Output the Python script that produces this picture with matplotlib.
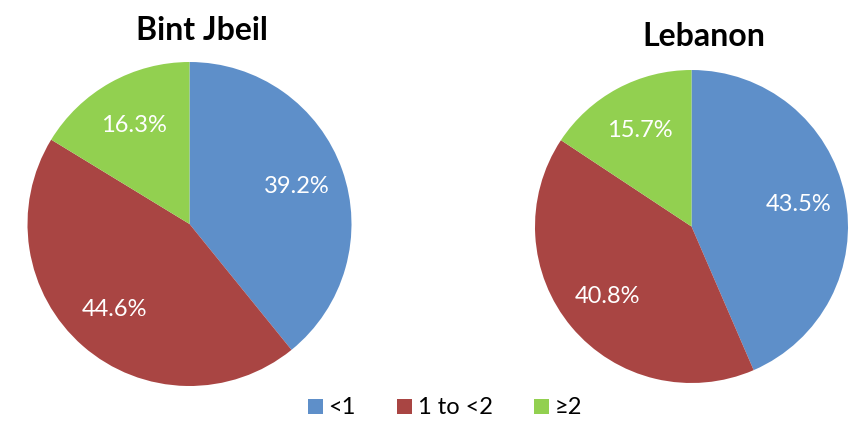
import matplotlib
matplotlib.use("Agg")
import matplotlib.pyplot as plt
from matplotlib.patches import Patch

categories = ["<1", "1 to <2", "\u22652"]
bint_jbeil = [39.2, 44.6, 16.3]
lebanon = [43.5, 40.8, 15.7]
titles = ["Bint Jbeil", "Lebanon"]
colors = ["#5E8FC9", "#A94543", "#92D050"]

W, H = 849, 422
fig = plt.figure(figsize=(W / 100, H / 100), dpi=100)
fam = ["Lato", "DejaVu Sans"]

def add_pie(cx, cy, r, values, title, tx, ty):
    ax = fig.add_axes([(cx - r) / W, (H - cy - r) / H, 2 * r / W, 2 * r / H])
    wedges, texts, autotexts = ax.pie(
        values, colors=colors, startangle=90, counterclock=False,
        autopct=lambda p: f"{p:.1f}%", pctdistance=0.7,
        wedgeprops=dict(linewidth=0), radius=1.0,
        textprops=dict(color="white", fontsize=17, family=fam))
    ax.set_xlim(-1, 1)
    ax.set_ylim(-1, 1)
    ax.set_aspect("equal")
    ax.axis("off")
    fig.text(tx / W, 1 - ty / H, title, ha="center", va="center",
             fontsize=23, fontweight="bold", family=fam)
    return ax

add_pie(189.5, 224, 162, bint_jbeil, titles[0], 202, 30)
add_pie(691.5, 226.5, 156.5, lebanon, titles[1], 704, 37)

handles = [Patch(facecolor=c, edgecolor="none") for c in colors]
fig.legend(handles, categories, loc="center", bbox_to_anchor=(445 / W, 1 - 408 / H),
           ncol=3, frameon=False, handlelength=0.62, handleheight=0.62,
           handletextpad=0.25, columnspacing=1.75,
           prop=dict(family=fam, size=17))

fig.savefig("out.png", dpi=100)
